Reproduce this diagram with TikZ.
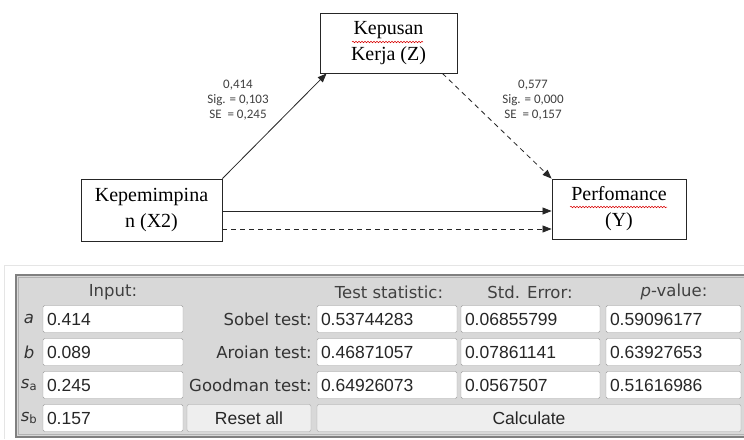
\documentclass[tikz,border=0pt]{standalone}
\usepackage{fontspec}
\setmainfont{Liberation Serif}
\newfontfamily\pathfont{Carlito}
\newfontfamily\formfont{DejaVu Sans}
\newfontfamily\fieldfont{Liberation Sans}
\usetikzlibrary{arrows.meta,calc,decorations.pathmorphing}
\definecolor{tblgray}{RGB}{216,216,216}
\definecolor{tblborder}{RGB}{128,128,128}
\definecolor{btngray}{RGB}{238,238,238}
\definecolor{labgray}{RGB}{64,64,64}

\begin{document}
\begin{tikzpicture}[x=1pt, y=-1pt,
  varbox/.style={draw=black!85, line width=0.9pt, inner sep=0pt, align=center,
    font=\fontsize{20}{26}\selectfont},
  pathlab/.style={align=center, text=labgray, font=\pathfont\fontsize{13}{15}\selectfont},
  arr/.style={-{Triangle[length=9pt,width=7pt]}, line width=0.8pt, black!85},
  dashline/.style={dash pattern=on 5pt off 4pt},
  spellmark/.style={red!85!black, line width=0.5pt, decorate,
    decoration={snake, amplitude=0.8pt, segment length=3pt}},
  rowlab/.style={text=black!80, font=\formfont\fontsize{16.5}{18}\selectfont, inner sep=0pt},
  field/.style={draw=black!40, fill=white, rounded corners=1.5pt, inner xsep=4pt, inner ysep=0pt,
    minimum height=27pt, align=left, text=black!85, font=\fieldfont\fontsize{17.5}{19}\selectfont},
  button/.style={draw=black!35, fill=btngray, rounded corners=2pt, inner sep=0pt,
    minimum height=27pt, text=black!85, font=\fieldfont\fontsize{17.5}{19}\selectfont}]
\useasboundingbox (0,0) rectangle (744,439);
\fill[white] (0,0) rectangle (744,439);

% Path model
\node[varbox, minimum width=137pt, minimum height=60pt] (Z) at (388.5,43) {Kepusan\\Kerja (Z)};
\node[varbox, minimum width=141pt, minimum height=62pt] (X) at (151.5,210) {Kepemimpina\\n (X2)};
\node[varbox, minimum width=134pt, minimum height=60pt] (Y) at (619,209) {Perfomance\\(Y)};

% spell check marks
\draw[spellmark] (352,42) -- (423,42);
\draw[spellmark] (570,207) -- (667,207);

% Paths
\draw[arr] (X.north east) -- ($(Z.south west)+(7,0)$);
\draw[arr, dashline] ($(Z.south east)+(-15,0)$) -- (Y.north west);
\draw[arr] ($(X.east)+(0,1)$) -- ($(Y.west)+(0,2)$);
\draw[arr, dashline] ($(X.east)+(0,19)$) -- ($(Y.west)+(0,20)$);

\node[pathlab] (labXZ) at (238,100) {0,414\\Sig. = 0,103\\SE~~= 0,245};
\node[pathlab] (labZY) at (533,100) {0,577\\Sig. = 0,000\\SE~~= 0,157};

% Sobel calculator
\draw[black!10] (4,439) -- (4,265) -- (744,265);
\fill[tblgray] (15,274) rectangle (760,438);
\draw[tblborder, line width=1.6pt] (16,275) rectangle (760,437);
\draw[black!30, line width=0.6pt] (18.5,277.5) rectangle (758,434.5);

% Headers
\node[rowlab, text=black!75] (hinput) at (113,292) {Input:};
\node[rowlab, text=black!75] (hstat) at (389,292) {Test statistic:};
\node[rowlab, text=black!75] (hse) at (530,292) {Std. Error:};
\node[rowlab, text=black!75] (hpv) at (674,292) {{\itshape p}-value:};

% Input fields
\foreach \ry/\rname/\rlab/\rval in {319/a/{\itshape a}/0.414, 352/b/{\itshape b}/0.089,
    385/sa/{{\itshape s}\textsubscript{a}}/0.245, 418/sb/{{\itshape s}\textsubscript{b}}/0.157} {
  \node[rowlab] (lab\rname) at (29,\ry) {\rlab};
  \node[field, text width=132pt] (in\rname) at (113,\ry) {\rval};
}

% Test results
\foreach \ry/\rname/\tname/\tstat/\tse/\tpv in {
    319/sobel/Sobel test/0.53744283/0.06855799/0.59096177,
    352/aroian/Aroian test/0.46871057/0.07861141/0.63927653,
    385/goodman/Goodman test/0.64926073/0.0567507/0.51616986} {
  \node[rowlab, anchor=east] (\rname lab) at (312,\ry) {\tname:};
  \node[field, text width=132pt] (\rname stat) at (387,\ry) {\tstat};
  \node[field, text width=131pt] (\rname se) at (530.5,\ry) {\tse};
  \node[field, text width=127pt] (\rname pv) at (673.5,\ry) {\tpv};
}

% Buttons
\node[button, minimum width=124pt] (reset) at (249,418) {Reset all};
\node[button, minimum width=424pt] (calc) at (529,418) {Calculate};
\end{tikzpicture}
\end{document}
